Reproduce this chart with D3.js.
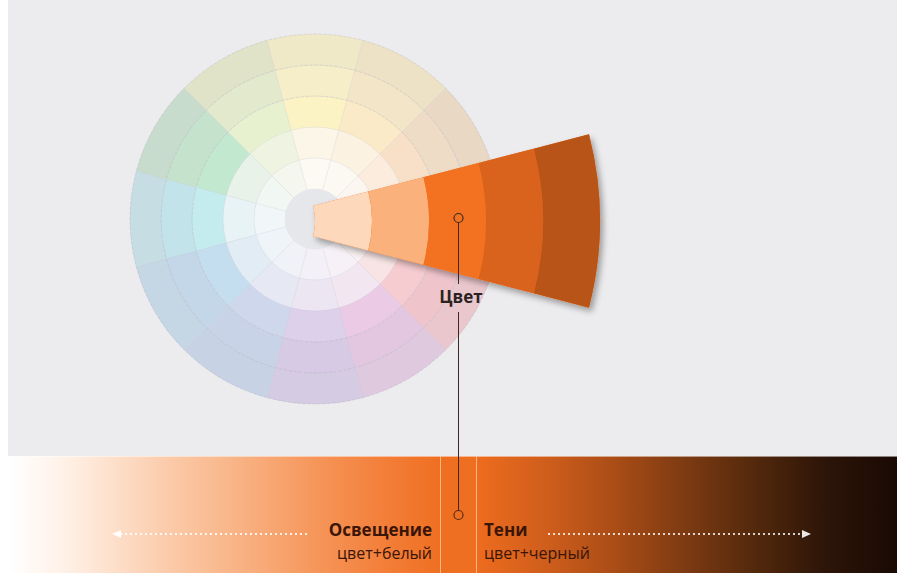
<!DOCTYPE html>
<html>
<head>
<meta charset="utf-8">
<script src="https://cdn.jsdelivr.net/npm/d3@7"></script>
<style>
  body { margin: 0; background: #fff; }
  svg { display: block; }
  .lbl { font-family: "Open Sans", "DejaVu Sans", sans-serif; }
</style>
</head>
<body>
<div id="chart"></div>
<script>
// hue sectors, clockwise from the right (orange); rings inner -> outer
var hueNames = ["orange", "red", "magenta", "violet", "blue-violet", "blue",
                "cyan", "green", "yellow-green", "yellow", "yellow-orange", "amber"];
var hueRings = [
  ["#fbf1ea", "#fde7d6", "#fcd6b8", "#f2d2bc", "#ecd3c0"],
  ["#f9f1f1", "#f8e4e4", "#f6ccd0", "#efc5cb", "#eac7cd"],
  ["#f6f1f6", "#f2e6f1", "#ebcae6", "#e3c6e0", "#dfc9de"],
  ["#f3f1f7", "#ebe6f2", "#dcd0ea", "#d6cae4", "#d5cbe2"],
  ["#f0f2f8", "#e6e9f4", "#cfd7ed", "#c9d3e7", "#c7d2e5"],
  ["#eff4f8", "#e2ecf5", "#c4def0", "#c3d7e8", "#c5d6e5"],
  ["#f1f7f8", "#e7f3f4", "#c4ecef", "#c2e3ea", "#c6dee3"],
  ["#f1f7f3", "#e8f2e9", "#c2e9cf", "#c4e2cc", "#c8dccd"],
  ["#f5f7ef", "#eff4e2", "#e8f1cf", "#e3e9cd", "#e0e3c8"],
  ["#fcfaf3", "#fbf6e8", "#fcf3c4", "#f6eec8", "#efe9c8"],
  ["#fcf8f2", "#fcf2e2", "#fbeac8", "#f3e6c8", "#ede2c6"],
  ["#fbf6f0", "#fbecdd", "#f8e0c8", "#eedcc6", "#e8d8c4"]
];
var centerColor = "#e5e7eb";

// the orange sector pulled out: tints -> pure -> shades
var wedgeBands = ["#fdd8ba", "#fbb17c", "#f37221", "#d9621c", "#b95418"];

// bottom band: colour + white, colour + black
var tintStops  = ["#ffffff", "#fff2e8", "#fddec9", "#fbcaa9", "#f9b88c", "#f7a46f", "#f59052", "#f37e38", "#ef6f22"];
var pureColor  = "#ef6f22";
var shadeStops = ["#ee6c1e", "#cf5e1c", "#a94c16", "#7c3a12", "#52280c", "#2c1408", "#1a0a04"];

var wheelLabel = "Цвет";
var tintTitle = "Освещение", tintSub = "цвет+белый";
var shadeTitle = "Тени", shadeSub = "цвет+черный";

var W = 897, H = 573;
var svg = d3.select("#chart").append("svg").attr("width", W).attr("height", H);
var defs = svg.append("defs");

// background
svg.append("rect").attr("x", 8).attr("y", 0).attr("width", W - 8).attr("height", 456).attr("fill", "#ececee");

// ---- colour wheel ----
var cx = 315, cy = 219;
var ring = d3.scaleLinear().domain([0, 5]).range([30, 185]);
var hueAngle = d3.scaleLinear().domain([0, hueNames.length]).range([0, 2 * Math.PI]);
var half = Math.PI / hueNames.length;
var arc = d3.arc();

var cells = [];
hueRings.forEach(function(rs, h) {
  rs.forEach(function(c, r) { cells.push({h: h, r: r, c: c}); });
});

var wheel = svg.append("g").attr("transform", "translate(" + cx + "," + cy + ")");
wheel.selectAll("path.cell").data(cells).enter().append("path")
  .attr("class", "cell")
  .attr("d", function(d) {
    var a = hueAngle(d.h) + Math.PI / 2;
    return arc({innerRadius: ring(d.r), outerRadius: ring(d.r + 1), startAngle: a - half, endAngle: a + half});
  })
  .attr("fill", function(d) { return d.c; })
  .attr("stroke", "rgba(170,170,185,0.18)")
  .attr("stroke-width", 0.6);

wheel.selectAll("circle.guide").data(d3.range(3, 6)).enter().append("circle")
  .attr("class", "guide")
  .attr("r", function(d) { return ring(d); })
  .attr("fill", "none")
  .attr("stroke", "rgba(140,140,160,0.22)")
  .attr("stroke-width", 0.7)
  .attr("stroke-dasharray", "3,2");

wheel.append("circle").attr("r", ring(0)).attr("fill", centerColor);

// ---- pulled-out wedge ----
var shadow = defs.append("filter").attr("id", "shadow")
  .attr("x", "-10%").attr("y", "-10%").attr("width", "130%").attr("height", "130%");
shadow.append("feDropShadow").attr("dx", 3).attr("dy", 4).attr("stdDeviation", 3)
  .attr("flood-color", "#000").attr("flood-opacity", 0.35);

var wx = 254, wy = 221;
var band = d3.scaleLinear().domain([0, wedgeBands.length]).range([61, 346]);
var wHalf = 14.5 * Math.PI / 180;
var wedge = svg.append("g").attr("transform", "translate(" + wx + "," + wy + ")");
wedge.append("path")
  .attr("d", arc({innerRadius: band(0), outerRadius: band(wedgeBands.length), startAngle: Math.PI / 2 - wHalf, endAngle: Math.PI / 2 + wHalf}))
  .attr("fill", wedgeBands[2])
  .attr("filter", "url(#shadow)");
wedge.selectAll("path.band").data(wedgeBands).enter().append("path")
  .attr("class", "band")
  .attr("d", function(d, i) {
    return arc({innerRadius: band(i), outerRadius: band(i + 1), startAngle: Math.PI / 2 - wHalf, endAngle: Math.PI / 2 + wHalf});
  })
  .attr("fill", function(d) { return d; });

// ---- bottom band ----
function gradient(id, stops) {
  var off = d3.scaleLinear().domain([0, stops.length - 1]).range([0, 100]);
  var g = defs.append("linearGradient").attr("id", id).attr("x1", "0%").attr("x2", "100%");
  g.selectAll("stop").data(stops).enter().append("stop")
    .attr("offset", function(d, i) { return off(i) + "%"; })
    .attr("stop-color", function(d) { return d; });
}
gradient("tint", tintStops);
gradient("shade", shadeStops);

var bandY = 456, bandH = H - bandY;
var x0 = 8, xa = 440, xb = 476;
svg.append("rect").attr("x", x0).attr("y", bandY).attr("width", xa - x0).attr("height", bandH).attr("fill", "url(#tint)");
svg.append("rect").attr("x", xa).attr("y", bandY).attr("width", xb - xa).attr("height", bandH).attr("fill", pureColor);
svg.append("rect").attr("x", xb).attr("y", bandY).attr("width", W - xb).attr("height", bandH).attr("fill", "url(#shade)");
svg.append("line").attr("x1", x0).attr("x2", W).attr("y1", bandY + 0.5).attr("y2", bandY + 0.5)
  .attr("stroke", "rgba(255,255,255,0.5)");
[xa, xb].forEach(function(x) {
  svg.append("line").attr("x1", x + 0.5).attr("x2", x + 0.5).attr("y1", bandY).attr("y2", H)
    .attr("stroke", "rgba(255,205,170,0.75)").attr("stroke-width", 1);
});

// dotted arrows
var ay = 534;
svg.append("line").attr("x1", 120).attr("x2", 310).attr("y1", ay).attr("y2", ay)
  .attr("stroke", "rgba(255,255,255,0.85)").attr("stroke-width", 2).attr("stroke-dasharray", "2,3");
svg.append("path").attr("d", "M112," + ay + "L121," + (ay - 4) + "L121," + (ay + 4) + "Z").attr("fill", "rgba(255,255,255,0.9)");
svg.append("line").attr("x1", 548).attr("x2", 802).attr("y1", ay).attr("y2", ay)
  .attr("stroke", "rgba(255,255,255,0.8)").attr("stroke-width", 2).attr("stroke-dasharray", "2,3");
svg.append("path").attr("d", "M811," + ay + "L802," + (ay - 4) + "L802," + (ay + 4) + "Z").attr("fill", "rgba(255,255,255,0.9)");

// leader line with the two markers
var lx = 458.5;
svg.append("line").attr("x1", lx).attr("x2", lx).attr("y1", 223).attr("y2", 284).attr("stroke", "#3a2a22");
svg.append("line").attr("x1", lx).attr("x2", lx).attr("y1", 312).attr("y2", 510).attr("stroke", "#3a2a22");
svg.append("circle").attr("cx", lx).attr("cy", 218).attr("r", 4.5).attr("fill", "none").attr("stroke", "#3a2a22").attr("stroke-width", 1.2);
svg.append("circle").attr("cx", lx).attr("cy", 515).attr("r", 4.5).attr("fill", "none").attr("stroke", "#5a2a12").attr("stroke-width", 1.2);

svg.append("text").attr("class", "lbl").attr("x", 461).attr("y", 303)
  .attr("text-anchor", "middle").attr("font-size", 17).attr("font-weight", 700).attr("fill", "#2b2222")
  .text(wheelLabel);

// captions
var ink = "#3a1508";
svg.append("text").attr("class", "lbl").attr("x", 432).attr("y", 536).attr("text-anchor", "end")
  .attr("font-size", 17).attr("font-weight", 700).attr("fill", ink).text(tintTitle);
svg.append("text").attr("class", "lbl").attr("x", 432).attr("y", 559).attr("text-anchor", "end")
  .attr("font-size", 16).attr("fill", ink).text(tintSub);
svg.append("text").attr("class", "lbl").attr("x", 484).attr("y", 536)
  .attr("font-size", 17).attr("font-weight", 700).attr("fill", ink).text(shadeTitle);
svg.append("text").attr("class", "lbl").attr("x", 484).attr("y", 559)
  .attr("font-size", 16).attr("fill", ink).text(shadeSub);
</script>
</body>
</html>
